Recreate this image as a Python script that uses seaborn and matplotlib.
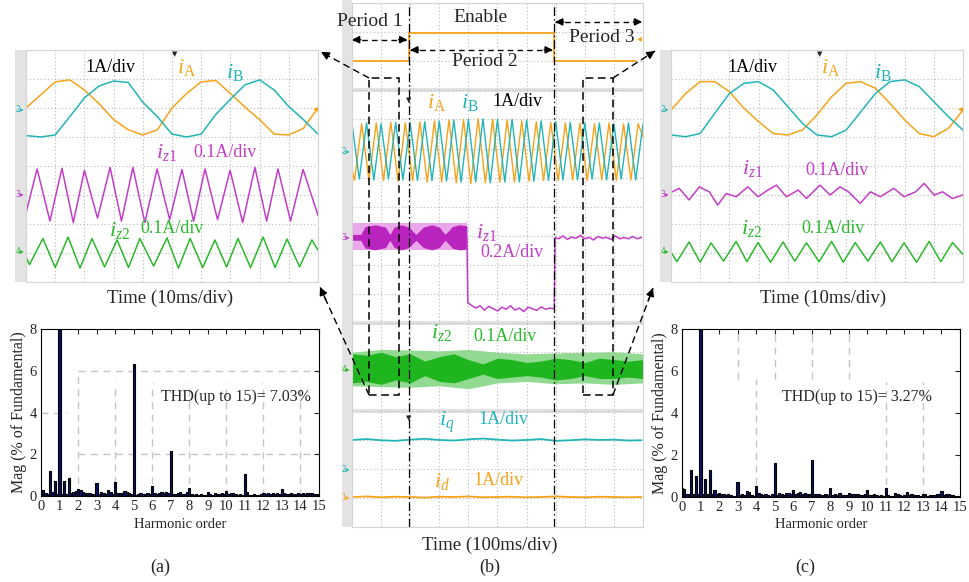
import matplotlib
matplotlib.use("Agg")
import matplotlib.pyplot as plt
import numpy as np
import seaborn as sns
from matplotlib.patches import Rectangle

# ------------------------------------------------------------------
# Data (read off the scope captures / FFT plots)
# ------------------------------------------------------------------
# (a) and (c) scope screens: time in div (10ms/div), level in div
t21 = [0.0, 0.5, 1.0, 1.5, 2.0, 2.5, 3.0, 3.5, 4.0, 4.5, 5.0,
       5.5, 6.0, 6.5, 7.0, 7.5, 8.0, 8.5, 9.0, 9.5, 10.0]
ia_a = [6.0, 6.45, 6.9, 6.97, 6.62, 6.15, 5.6, 5.25, 5.07, 5.25, 6.0,
        6.5, 6.9, 6.95, 6.5, 6.03, 5.6, 5.1, 5.07, 5.3, 6.0]
ib_a = [5.05, 5.0, 5.07, 5.7, 6.35, 6.76, 6.93, 6.88, 6.2, 5.7, 5.1,
        5.0, 5.1, 5.78, 6.3, 6.8, 6.97, 6.62, 6.05, 5.6, 5.1]
ia_c = [5.93, 6.5, 6.91, 6.91, 6.56, 5.99, 5.53, 5.12, 5.07, 5.24, 5.76,
        6.39, 6.85, 6.91, 6.68, 6.16, 5.59, 5.12, 5.01, 5.3, 5.93]
ib_c = [5.07, 5.01, 5.12, 5.82, 6.5, 6.85, 6.91, 6.62, 6.05, 5.47, 5.07,
        5.01, 5.24, 5.87, 6.5, 6.91, 6.97, 6.74, 6.22, 5.7, 5.24]

iz1_a_t = [0.0, 0.38, 0.82, 1.23, 1.62, 2.0, 2.45, 2.88, 3.27, 3.66, 4.07, 4.49, 4.92,
           5.34, 5.74, 6.13, 6.56, 6.99, 7.42, 7.84, 8.24, 8.63, 9.06, 9.49, 10.0]
iz1_a = [2.38, 3.9, 2.1, 3.92, 2.05, 3.85, 2.2, 3.95, 2.1, 3.95, 2.05, 3.9, 2.15,
         3.88, 2.1, 3.9, 2.15, 3.85, 2.05, 3.95, 2.1, 3.9, 2.1, 3.88, 2.3]
iz2_a_t = [0.0, 0.12, 0.58, 1.0, 1.44, 1.85, 2.26, 2.69, 3.12, 3.51, 3.9, 4.37, 4.83,
           5.22, 5.62, 6.05, 6.47, 6.87, 7.26, 7.69, 8.12, 8.53, 8.94, 9.37, 9.79, 10.0]
iz2_a = [0.86, 0.6, 1.5, 0.5, 1.55, 0.48, 1.5, 0.52, 1.45, 0.5, 1.5, 0.55, 1.52,
         0.48, 1.5, 0.5, 1.45, 0.52, 1.5, 0.5, 1.55, 0.5, 1.48, 0.52, 1.45, 1.1]

iz1_c_t = [0.05, 0.28, 0.62, 0.97, 1.31, 1.6, 1.89, 2.23, 2.63, 2.98, 3.32, 3.61, 3.95,
           4.36, 4.64, 5.1, 5.45, 5.79, 6.08, 6.48, 6.83, 7.17, 7.63, 7.98, 8.38, 8.67,
           9.01, 9.3, 9.64, 9.99]
iz1_c = [3.11, 3.23, 2.83, 3.28, 3.11, 2.65, 3.05, 2.94, 3.28, 2.94, 3.17, 3.34, 2.94,
         3.17, 2.88, 3.34, 3.0, 3.28, 3.11, 2.71, 3.11, 2.94, 3.23, 2.94, 3.11, 3.4,
         3.0, 3.11, 2.88, 3.0]
iz2_c_t = [0.0, 0.2, 0.62, 1.0, 1.37, 1.8, 2.23, 2.6, 2.98, 3.41, 3.84, 4.24, 4.64,
           5.07, 5.5, 5.9, 6.31, 6.74, 7.17, 7.57, 7.98, 8.41, 8.84, 9.24, 9.64, 10.0]
iz2_c = [1.03, 0.7, 1.38, 0.68, 1.35, 0.72, 1.4, 0.7, 1.36, 0.68, 1.38, 0.72, 1.35,
         0.7, 1.4, 0.68, 1.36, 0.72, 1.38, 0.7, 1.35, 0.68, 1.4, 0.7, 1.36, 0.95]

# (b) long record: time in div (100ms/div), level in div from the bottom
en_t = [0.0, 1.96, 1.96, 6.94, 6.94, 9.75]
en_y = [16.0, 16.0, 16.98, 16.98, 16.0, 16.0]

ib_b_t = [0.0, 0.25, 0.5, 0.75, 1.0, 1.25, 1.5, 1.75, 2.0, 2.25, 2.5, 2.75, 3.0, 3.25,
          3.5, 3.75, 4.0, 4.25, 4.5, 4.75, 5.0, 5.25, 5.5, 5.75, 6.0, 6.25, 6.5, 6.75,
          7.0, 7.25, 7.5, 7.75, 8.0, 8.25, 8.5, 8.75, 9.0, 9.25, 9.5, 9.75, 10.0]
ib_b = [13.85, 11.95, 13.88, 11.92, 13.85, 11.95, 13.9, 11.92, 13.88, 11.9,
        13.92, 11.9, 13.95, 11.88, 13.98, 11.85, 14.0, 11.85, 14.02, 11.82,
        14.0, 11.85, 14.0, 11.85, 13.98, 11.88, 13.95, 11.9, 13.92, 11.92,
        13.9, 11.92, 13.88, 11.95, 13.88, 11.92, 13.85, 11.95, 13.88, 11.92, 13.85]
ia_b_t = [0.0, 0.083, 0.333, 0.583, 0.833, 1.083, 1.333, 1.583, 1.833, 2.083, 2.333,
          2.583, 2.833, 3.083, 3.333, 3.583, 3.833, 4.083, 4.333, 4.583, 4.833, 5.083,
          5.333, 5.583, 5.833, 6.083, 6.333, 6.583, 6.833, 7.083, 7.333, 7.583, 7.833,
          8.083, 8.333, 8.583, 8.833, 9.083, 9.333, 9.583, 9.833, 10.0]
ia_b = [12.3,
        11.9, 13.85, 11.92, 13.88, 11.9, 13.9, 11.88, 13.88, 11.9, 13.92,
        11.85, 13.95, 11.85, 13.98, 11.82, 14.0, 11.8, 14.02, 11.82, 14.0,
        11.85, 13.98, 11.85, 13.95, 11.88, 13.92, 11.9, 13.9, 11.9, 13.88,
        11.92, 13.88, 11.9, 13.85, 11.92, 13.88, 11.9, 13.85, 11.92, 13.85,
        13.4]

# iz1 before the enable: high-frequency band (light envelope + darker beats)
iz1_band_t = [0.0, 3.95]
iz1_band_hi = [10.45, 10.45]
iz1_band_lo = [9.5, 9.5]
iz1_beat_t = [0.0, 0.3, 0.45, 0.8, 1.15, 1.3, 1.45, 1.7, 1.95, 2.2, 2.45, 2.75, 3.0,
              3.2, 3.45, 3.7, 3.95]
iz1_beat_hi = [10.05, 10.05, 10.32, 10.38, 10.3, 10.05, 10.3, 10.38, 10.3, 10.05,
               10.3, 10.38, 10.3, 10.05, 10.32, 10.38, 10.35]
iz1_beat_lo = [9.85, 9.85, 9.58, 9.52, 9.6, 9.85, 9.6, 9.52, 9.6, 9.85, 9.6, 9.52,
               9.6, 9.85, 9.58, 9.52, 9.55]
iz1_b_t = [3.95, 3.98, 4.1, 4.25, 4.4, 4.55, 4.7, 4.85, 5.0, 5.15, 5.3, 5.45, 5.6,
           5.75, 5.9, 6.05, 6.2, 6.35, 6.5, 6.65, 6.8, 6.95, 6.98, 7.1, 7.25, 7.4,
           7.55, 7.7, 7.85, 8.0, 8.15, 8.3, 8.45, 8.6, 8.75, 8.9, 9.05, 9.2, 9.35,
           9.5, 9.65, 9.8, 9.95]
iz1_b = [9.95, 7.7, 7.62, 7.52, 7.6, 7.45, 7.58, 7.5, 7.42, 7.55, 7.48, 7.6, 7.45,
         7.52, 7.4, 7.55, 7.5, 7.44, 7.56, 7.48, 7.52, 7.5, 9.95, 9.9, 10.0, 9.88,
         9.96, 9.92, 10.02, 9.9, 9.95, 9.86, 9.98, 9.92, 9.95, 9.88, 10.0, 9.9, 9.94,
         9.9, 9.98, 9.9, 9.95]

iz2_band_t = [0.0, 1.0, 2.0, 3.0, 4.0, 5.0, 6.0, 7.0, 8.0, 9.0, 10.0]
iz2_band_hi = [6.0, 6.1, 6.08, 6.05, 6.1, 6.0, 5.95, 5.98, 6.0, 6.02, 5.95]
iz2_band_lo = [4.85, 4.82, 4.8, 4.85, 4.75, 4.95, 5.0, 4.92, 4.95, 4.9, 4.95]
iz2_core_t = [0.0, 0.5, 1.0, 1.5, 2.0, 2.5, 3.0, 3.5, 4.0, 4.5, 5.0, 5.5, 6.0, 6.5,
              7.0, 7.5, 8.0, 8.5, 9.0, 9.5, 10.0]
iz2_core_hi = [5.95, 5.9, 6.0, 5.85, 5.95, 5.7, 5.85, 5.95, 5.75, 5.6, 5.8, 5.75,
               5.65, 5.7, 5.8, 5.75, 5.65, 5.8, 5.75, 5.7, 5.75]
iz2_core_lo = [4.95, 5.0, 4.9, 5.05, 4.95, 5.2, 5.0, 4.95, 5.1, 5.25, 5.1, 5.15,
               5.2, 5.15, 5.05, 5.1, 5.2, 5.1, 5.1, 5.15, 5.1]

dq_t = [0.0, 0.5, 1.0, 1.5, 2.0, 2.5, 3.0, 3.5, 4.0, 4.5, 5.0, 5.5, 6.0, 6.5, 7.0,
        7.5, 8.0, 8.5, 9.0, 9.5, 9.95]
iq_b = [2.99, 3.02, 2.98, 2.96, 3.0, 3.03, 2.99, 2.97, 3.01, 3.04, 3.0, 2.97, 2.99,
        3.02, 2.96, 2.98, 3.01, 2.99, 3.0, 2.97, 2.98]
id_b = [1.03, 1.05, 1.02, 1.04, 1.03, 1.01, 1.04, 1.03, 1.05, 1.02, 1.03, 1.04, 1.02,
        1.03, 1.05, 1.03, 1.02, 1.04, 1.03, 1.02, 1.03]

# FFT bins (harmonic order, 0.125 step) and magnitudes (% of fundamental)
harm = np.arange(0, 15.001, 0.125)
mag_a = [0.30, 0.28, 0.15, 0.10, 1.20, 0.20, 0.70, 0.10,
         9.50, 0.10, 0.72, 0.10, 0.85, 0.15, 0.20, 0.25,
         0.35, 0.28, 0.20, 0.12, 0.15, 0.15, 0.10, 0.08,
         0.62, 0.10, 0.20, 0.15, 0.10, 0.28, 0.20, 0.10,
         0.68, 0.12, 0.15, 0.12, 0.22, 0.18, 0.15, 0.10,
         6.30, 0.05, 0.08, 0.15, 0.08, 0.08, 0.15, 0.10,
         0.48, 0.15, 0.10, 0.15, 0.20, 0.15, 0.20, 0.15,
         2.15, 0.10, 0.10, 0.12, 0.20, 0.08, 0.10, 0.20,
         0.38, 0.10, 0.05, 0.08, 0.05, 0.08, 0.05, 0.05,
         0.18, 0.08, 0.05, 0.15, 0.10, 0.08, 0.12, 0.10,
         0.25, 0.08, 0.12, 0.12, 0.10, 0.05, 0.08, 0.05,
         1.05, 0.20, 0.05, 0.05, 0.08, 0.05, 0.05, 0.08,
         0.12, 0.08, 0.12, 0.10, 0.12, 0.10, 0.15, 0.08,
         0.35, 0.12, 0.08, 0.10, 0.15, 0.08, 0.10, 0.12,
         0.10, 0.12, 0.10, 0.15, 0.12, 0.12, 0.10, 0.08,
         0.05]
mag_c = [0.42, 0.38, 0.15, 0.12, 1.30, 0.15, 1.00, 0.12,
         9.50, 0.12, 0.88, 0.15, 1.28, 0.12, 0.35, 0.12,
         0.20, 0.15, 0.15, 0.10, 0.12, 0.10, 0.05, 0.05,
         0.72, 0.08, 0.15, 0.10, 0.28, 0.22, 0.10, 0.05,
         0.52, 0.20, 0.15, 0.08, 0.12, 0.08, 0.05, 0.12,
         1.60, 0.10, 0.18, 0.15, 0.10, 0.18, 0.20, 0.15,
         0.32, 0.12, 0.20, 0.22, 0.15, 0.20, 0.15, 0.12,
         1.78, 0.12, 0.15, 0.12, 0.08, 0.10, 0.15, 0.10,
         0.45, 0.10, 0.12, 0.08, 0.20, 0.08, 0.10, 0.10,
         0.18, 0.15, 0.15, 0.12, 0.15, 0.10, 0.08, 0.12,
         0.35, 0.10, 0.08, 0.12, 0.10, 0.05, 0.08, 0.05,
         0.45, 0.10, 0.05, 0.05, 0.20, 0.15, 0.08, 0.05,
         0.10, 0.22, 0.10, 0.15, 0.10, 0.08, 0.10, 0.05,
         0.12, 0.12, 0.05, 0.08, 0.10, 0.08, 0.12, 0.12,
         0.28, 0.10, 0.12, 0.12, 0.10, 0.08, 0.05, 0.05,
         0.05]
thd_a = "THD(up to 15)= 7.03%"
thd_c = "THD(up to 15)= 3.27%"

# ------------------------------------------------------------------
# Style
# ------------------------------------------------------------------
ORANGE = "#f5a31a"
CYAN = "#22b5b8"
MAGENTA = "#c23ec6"
GREEN = "#2cb82c"
NAVY = "#0b1165"
GRIDC = "#b8b8b8"

sns.set_style("white")
plt.rcParams["font.family"] = ["Liberation Serif", "DejaVu Sans"]
plt.rcParams["mathtext.fontset"] = "custom"
plt.rcParams["mathtext.rm"] = "Liberation Serif"
plt.rcParams["mathtext.it"] = "Liberation Serif:italic"

W, H = 970, 582
fig = plt.figure(figsize=(W / 100, H / 100), dpi=100)

MATH = 16      # size of the italic current symbols
LAB = 13       # size of the "xA/div" labels


def px_axes(x0, y0, x1, y1):
    return fig.add_axes([x0 / W, 1 - y1 / H, (x1 - x0) / W, (y1 - y0) / H])


def ftext(x, y, s, **kw):
    kw.setdefault("ha", "center")
    kw.setdefault("va", "center")
    fig.text(x / W, 1 - y / H, s, **kw)


def strip(x0, y0, x1, y1):
    fig.add_artist(Rectangle((x0 / W, 1 - y1 / H), (x1 - x0) / W, (y1 - y0) / H,
                             transform=fig.transFigure, facecolor="#e3e3e3",
                             edgecolor="none", zorder=0))


def scope_frame(ax, ny):
    ax.set_xlim(0, 10)
    ax.set_ylim(0, ny)
    ax.set_xticks(range(11))
    ax.set_yticks(range(ny + 1))
    ax.tick_params(length=0, labelbottom=False, labelleft=False)
    ax.grid(True, color=GRIDC, linestyle=(0, (1, 2.2)), linewidth=0.8)
    ax.set_axisbelow(True)
    for s in ax.spines.values():
        s.set_color("#d4d4d4")
        s.set_linewidth(0.8)
    ax.set_xlabel("")
    ax.set_ylabel("")


def trace(ax, x, y, color, lw=1.1):
    sns.lineplot(x=x, y=y, ax=ax, color=color, linewidth=lw,
                 estimator=None, sort=False, legend=False)


def marker(x, y, label, color):
    ftext(x, y, label + "\u25b8", fontsize=5.5, color=color, family="DejaVu Sans")


def label(ax, x, y, s, color):
    size = MATH if s.startswith("$") else LAB
    ax.text(x, y, s, color=color, fontsize=size, ha="center", va="center",
            clip_on=False)


# ------------------------------------------------------------------
# (a) and (c) scope screens
# ------------------------------------------------------------------
def small_scope(x0, ia, ib, z1t, z1, z2t, z2, labels):
    ax = px_axes(x0, 50, x0 + 292, 282)
    trace(ax, t21, ia, ORANGE)
    trace(ax, t21, ib, CYAN)
    trace(ax, z1t, z1, MAGENTA)
    trace(ax, z2t, z2, GREEN)
    scope_frame(ax, 8)
    for (x, y, s, c) in labels:
        label(ax, x, y, s, c)
    ax.text(5.1, 7.85, "\u25bc", fontsize=5, family="DejaVu Sans", ha="center", va="center")
    ax.text(10.0, 6.0, "\u25c2", fontsize=7, color=ORANGE, family="DejaVu Sans",
            ha="right", va="center", clip_on=False)
    return ax


strip(15, 50, 26, 282)
small_scope(26, ia_a, ib_a, iz1_a_t, iz1_a, iz2_a_t, iz2_a, [
    (2.88, 7.4, "1A/div", "black"),
    (5.51, 7.38, r"$i_{\mathrm{A}}$", ORANGE),
    (7.16, 7.24, r"$i_{\mathrm{B}}$", CYAN),
    (4.83, 4.48, r"$i_{z1}$", MAGENTA),
    (6.82, 4.45, "0.1A/div", MAGENTA),
    (3.22, 1.79, r"$i_{z2}$", GREEN),
    (5.0, 1.86, "0.1A/div", GREEN),
])
marker(20, 109, "2", CYAN)
marker(20, 195, "3", MAGENTA)
marker(20, 252, "4", GREEN)

strip(660, 50, 672, 282)
small_scope(671, ia_c, ib_c, iz1_c_t, iz1_c, iz2_c_t, iz2_c, [
    (2.79, 7.4, "1A/div", "black"),
    (5.45, 7.38, r"$i_{\mathrm{A}}$", ORANGE),
    (7.24, 7.24, r"$i_{\mathrm{B}}$", CYAN),
    (2.79, 3.93, r"$i_{z1}$", MAGENTA),
    (5.69, 3.86, "0.1A/div", MAGENTA),
    (2.76, 1.86, r"$i_{z2}$", GREEN),
    (5.55, 1.86, "0.1A/div", GREEN),
])
marker(665, 109, "2", CYAN)
marker(665, 195, "3", MAGENTA)
marker(665, 252, "4", GREEN)

ftext(170, 298, "Time (10ms/div)", fontsize=13.5)
ftext(823, 298, "Time (10ms/div)", fontsize=13.5)

# ------------------------------------------------------------------
# (b) long record
# ------------------------------------------------------------------
strip(342, 0, 352, 527)
axb = px_axes(352, 3, 643, 527)
for yy in (15, 7, 4):
    axb.axhline(yy, color="#e2e2e2", linewidth=3, zorder=0)
axb.fill_between(iz1_band_t, iz1_band_lo, iz1_band_hi, color="#eaa8eb", linewidth=0)
axb.fill_between(iz1_beat_t, iz1_beat_lo, iz1_beat_hi, color="#b824bd", linewidth=0)
axb.fill_between(iz2_band_t, iz2_band_lo, iz2_band_hi, color="#92da92", linewidth=0)
axb.fill_between(iz2_core_t, iz2_core_lo, iz2_core_hi, color="#1fb51f", linewidth=0)
trace(axb, en_t, en_y, ORANGE, 1.3)
trace(axb, ia_b_t, ia_b, ORANGE, 1.0)
trace(axb, ib_b_t, ib_b, CYAN, 1.0)
trace(axb, iz1_b_t, iz1_b, MAGENTA, 1.1)
trace(axb, dq_t, iq_b, CYAN, 1.3)
trace(axb, dq_t, id_b, ORANGE, 1.3)
scope_frame(axb, 18)

# enable edges
for xe in (1.96, 6.94):
    axb.axvline(xe, color="black", linewidth=0.9, linestyle=(0, (7, 2.5, 1.2, 2.5)))

# zoom windows
for xr in (0.58, 7.94):
    axb.add_patch(Rectangle((xr, 4.54), 1.02, 10.89, fill=False, edgecolor="black",
                            linewidth=1.1, linestyle=(0, (5, 3)), zorder=5))


def double_arrow(ax, xa, xb, y):
    ax.plot([xa, xb], [y, y], color="black", linewidth=1.0, linestyle=(0, (4, 3)),
            clip_on=False)
    for tip, tail in ((xa, xa + 0.3), (xb, xb - 0.3)):
        ax.annotate("", xy=(tip, y), xytext=(tail, y),
                    arrowprops=dict(arrowstyle="-|>", color="black", lw=1.0,
                                    mutation_scale=11, shrinkA=0, shrinkB=0))


double_arrow(axb, 0.0, 1.9, 16.74)
double_arrow(axb, 2.0, 6.9, 16.39)
double_arrow(axb, 6.98, 9.97, 17.35)

big = dict(fontsize=14, ha="center", va="center", clip_on=False)
axb.text(0.62, 17.35, "Period 1", **big)
axb.text(4.43, 17.49, "Enable", **big)
axb.text(4.57, 15.98, "Period 2", **big)
axb.text(8.59, 16.8, "Period 3", **big)

label(axb, 2.92, 14.57, r"$i_{\mathrm{A}}$", ORANGE)
label(axb, 4.05, 14.57, r"$i_{\mathrm{B}}$", CYAN)
label(axb, 5.7, 14.6, "1A/div", "black")
label(axb, 4.64, 10.1, r"$i_{z1}$", MAGENTA)
label(axb, 5.5, 9.42, "0.2A/div", MAGENTA)
label(axb, 3.09, 6.67, r"$i_{z2}$", GREEN)
label(axb, 5.26, 6.53, "0.1A/div", GREEN)
label(axb, 3.26, 3.61, r"$i_q$", CYAN)
label(axb, 5.19, 3.68, "1A/div", CYAN)
label(axb, 3.09, 1.55, r"$i_d$", ORANGE)
label(axb, 5.02, 1.6, "1A/div", ORANGE)
axb.text(1.96, 14.65, "\u25bc", fontsize=5, family="DejaVu Sans", ha="center", va="center")
axb.text(1.96, 3.75, "\u25bc", fontsize=5, family="DejaVu Sans", ha="center", va="center")
axb.text(9.97, 16.8, "\u25c2", fontsize=7, color=ORANGE, family="DejaVu Sans",
         ha="right", va="center", clip_on=False)

marker(346, 152, "2", CYAN)
marker(346, 238, "3", MAGENTA)
marker(346, 369, "4", GREEN)
marker(346, 469, "2", CYAN)
marker(346, 497, "1", ORANGE)

ftext(490, 545, "Time (100ms/div)", fontsize=13.5)

# ------------------------------------------------------------------
# FFT spectra
# ------------------------------------------------------------------
def spectrum(x0, y1, mag, thd, thd_x, grid_v, grid_h):
    ax = px_axes(x0, 329, x0 + 278, y1)
    for (xv, ya, yb) in grid_v:
        ax.vlines(xv, ya, yb, colors="#c4c4c4", linewidth=1.0,
                  linestyles=(0, (5, 4)), zorder=0.5)
    for (yh, xa, xb) in grid_h:
        ax.hlines(yh, xa, xb, colors="#c4c4c4", linewidth=1.0,
                  linestyles=(0, (5, 4)), zorder=0.5)
    sns.barplot(x=harm, y=mag, native_scale=True, orient="x", color=NAVY,
                saturation=1, edgecolor="black", linewidth=0.8, width=1.0,
                errorbar=None, ax=ax)
    ax.set_xlim(0, 15)
    ax.set_ylim(0, 8)
    ax.set_xticks(range(16))
    ax.set_yticks([0, 2, 4, 6, 8])
    ax.tick_params(direction="in", top=True, right=True, length=3.5, width=0.8,
                   labelsize=10.5, pad=3)
    for s in ax.spines.values():
        s.set_color("black")
        s.set_linewidth(0.8)
    ax.set_xlabel("")
    ax.set_ylabel("Mag (% of Fundamental)", fontsize=11.5, labelpad=2)
    ax.text(thd_x, 4.75, thd, fontsize=11.5, ha="left", va="center")
    return ax


spectrum(41, 496, mag_a, thd_a, 6.5,
         [(2, 0, 6), (4, 0, 5.4), (6, 0, 5.4), (8, 0, 5.4), (10, 0, 5.4),
          (12, 0, 5.4), (14, 0, 5.4)],
         [(6, 2, 15), (2, 2, 15), (4, 0, 1.4)])
spectrum(682, 497, mag_c, thd_c, 5.4,
         [(3, 5.6, 8), (5, 5.6, 8), (7, 5.6, 8), (9, 5.6, 8), (4, 0, 5.6),
          (11, 0, 5.5), (13, 0, 5.5)],
         [])

ftext(180, 524, "Harmonic order", fontsize=10.5)
ftext(821, 524, "Harmonic order", fontsize=10.5)
ftext(160, 567, "(a)", fontsize=13)
ftext(490, 567, "(b)", fontsize=13)
ftext(805, 567, "(c)", fontsize=13)

# ------------------------------------------------------------------
# dashed zoom arrows (figure pixel overlay)
# ------------------------------------------------------------------
ov = fig.add_axes([0, 0, 1, 1], zorder=10)
ov.set_xlim(0, W)
ov.set_ylim(H, 0)
ov.axis("off")
ov.patch.set_alpha(0)
for (xs, ys, xt, yt) in ((369, 78, 321, 52), (369, 395, 320, 287),
                         (613, 78, 655, 51), (613, 395, 653, 288)):
    ov.plot([xs, xt], [ys, yt], color="black", linewidth=1.0, linestyle=(0, (5, 3)))
    ov.annotate("", xy=(xt, yt), xytext=(xt + (xs - xt) * 0.12, yt + (ys - yt) * 0.12),
                arrowprops=dict(arrowstyle="-|>", color="black", lw=1.0,
                                mutation_scale=12, shrinkA=0, shrinkB=0))

fig.savefig("out.png", dpi=100)
